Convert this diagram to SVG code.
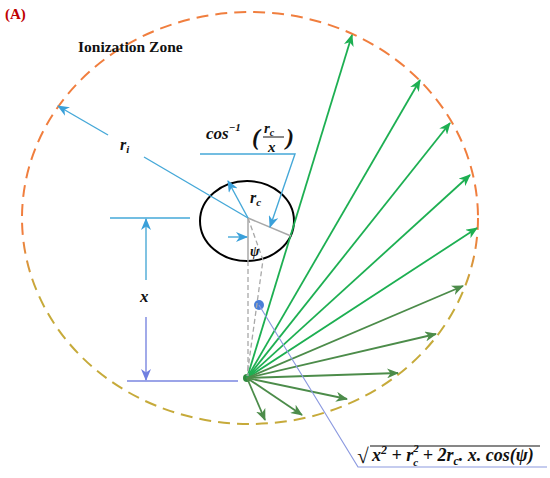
<svg xmlns="http://www.w3.org/2000/svg" width="550" height="478" viewBox="0 0 550 478">
<style>
.serif{font-family:"Liberation Serif","Times New Roman",serif;font-weight:bold;}
.math{font-family:"Liberation Serif","Times New Roman",serif;font-weight:bold;font-style:italic;fill:#111;}
.blue{stroke:#45A8D8;stroke-width:1.4;fill:none;}
.gA{stroke:#1DAF52;stroke-width:1.8;fill:none;marker-end:url(#ahG);}
.gB{stroke:#4C8C4A;stroke-width:1.8;fill:none;marker-end:url(#ahD);}
.gray{stroke:#A8A8A8;stroke-width:1.5;fill:none;}
.grayd{stroke:#A8A8A8;stroke-width:1.3;fill:none;stroke-dasharray:5 3;}
</style>
<defs>
<linearGradient id="zone" gradientUnits="userSpaceOnUse" x1="0" y1="235" x2="0" y2="290">
<stop offset="0" stop-color="#F07E3E"/>
<stop offset="1" stop-color="#C6AA3A"/>
</linearGradient>
<marker id="ahG" markerUnits="userSpaceOnUse" markerWidth="12" markerHeight="10" refX="11" refY="5" orient="auto">
<path d="M0,0 L12,5 L0,10 L3.5,5 z" fill="#1DAF52"/>
</marker>
<marker id="ahD" markerUnits="userSpaceOnUse" markerWidth="12" markerHeight="10" refX="11" refY="5" orient="auto">
<path d="M0,0 L12,5 L0,10 L3.5,5 z" fill="#4C8C4A"/>
</marker>
<marker id="ahB" markerUnits="userSpaceOnUse" markerWidth="12" markerHeight="10" refX="11" refY="5" orient="auto">
<path d="M0,0 L12,5 L0,10 L3.5,5 z" fill="#3AA0DA"/>
</marker>
<marker id="ahP" markerUnits="userSpaceOnUse" markerWidth="12" markerHeight="10" refX="11" refY="5" orient="auto">
<path d="M0,0 L12,5 L0,10 L3.5,5 z" fill="#6F7FE0"/>
</marker>
</defs>
<rect width="550" height="478" fill="#ffffff"/>

<text class="serif" x="5" y="19" font-size="15" fill="#C00000">(A)</text>

<g id="ionization-zone">
<ellipse cx="250" cy="218" rx="228" ry="206" fill="none" stroke="url(#zone)" stroke-width="2" stroke-dasharray="12 7"/>
<text class="serif" x="78" y="52" font-size="15.5" fill="#111">Ionization Zone</text>
</g>

<g id="core">
<ellipse cx="247" cy="221" rx="47" ry="40" fill="none" stroke="#000" stroke-width="2"/>
</g>

<g id="source">
<circle cx="247" cy="378" r="4" fill="#2E8B3E"/>
</g>

<g id="point">
<circle cx="259" cy="305" r="5" fill="#4A7FD8"/>
</g>

<g id="connectors">
<line class="gA" x1="247" y1="378" x2="352" y2="35"/>
<line class="gA" x1="247" y1="378" x2="420" y2="80"/>
<line class="gA" x1="247" y1="378" x2="450" y2="123"/>
<line class="gA" x1="247" y1="378" x2="470" y2="175"/>
<line class="gA" x1="247" y1="378" x2="477" y2="228"/>
<line class="gB" x1="247" y1="378" x2="463" y2="286"/>
<line class="gB" x1="247" y1="378" x2="436" y2="334"/>
<line class="gB" x1="247" y1="378" x2="398" y2="373"/>
<line class="gB" x1="247" y1="378" x2="347" y2="399"/>
<line class="gB" x1="247" y1="378" x2="302" y2="415"/>
<line class="gB" x1="247" y1="378" x2="265" y2="420"/>

<line class="gray" x1="248" y1="218" x2="291" y2="236"/>
<line class="gray" x1="248" y1="218" x2="248" y2="261"/>
<line class="grayd" x1="248" y1="261" x2="248" y2="376"/>
<polyline class="grayd" points="248,218 263,260 247,376"/>

<line class="blue" x1="248" y1="218" x2="144" y2="157"/>
<line class="blue" x1="108" y1="135" x2="58" y2="106" marker-end="url(#ahB)"/>
<line class="blue" x1="248" y1="218" x2="228" y2="181" marker-end="url(#ahB)"/>
<polyline class="blue" points="200,154 295,154 270,227" marker-end="url(#ahB)"/>
<line class="blue" x1="228" y1="237" x2="247" y2="237" marker-end="url(#ahB)"/>

<line class="blue" x1="110" y1="218" x2="190" y2="218"/>
<line stroke="#4AAAD6" stroke-width="1.4" x1="146" y1="280" x2="146" y2="219" marker-end="url(#ahB)"/>
<line stroke="#7A86E0" stroke-width="1.4" x1="146" y1="317" x2="146" y2="380" marker-end="url(#ahP)"/>
<line stroke="#7A86E0" stroke-width="1.4" x1="127" y1="381" x2="238" y2="381"/>

<polyline points="259,305 358,467 547,467" fill="none" stroke="#8C9AE0" stroke-width="1.2"/>
</g>

<g id="labels">
<text class="math" x="120" y="150" font-size="16">r<tspan font-size="11" dy="3">i</tspan></text>
<text class="math" x="250" y="203" font-size="16">r<tspan font-size="11" dy="3">c</tspan></text>
<text class="math" x="250" y="256" font-size="14">ψ</text>
<text class="math" x="140" y="302" font-size="17">x</text>

<text class="math" x="206" y="139" font-size="17">cos<tspan font-size="11" dy="-8">−1</tspan></text>
<text class="math" x="252" y="145" font-size="24" font-style="normal" font-weight="normal">(</text>
<text class="math" x="286" y="145" font-size="24" font-style="normal" font-weight="normal">)</text>
<text class="math" x="264" y="133" font-size="15">r<tspan font-size="10" dy="3">c</tspan></text>
<line x1="263" y1="137" x2="284" y2="137" stroke="#111" stroke-width="1"/>
<text class="math" x="268" y="152" font-size="15">x</text>

<text class="math" x="357" y="463" font-size="21" font-style="normal">√</text>
<line x1="370" y1="446" x2="540" y2="446" stroke="#111" stroke-width="1.2"/>
<text class="math" x="372" y="461" font-size="18">x<tspan font-size="12" dy="-7">2</tspan><tspan dy="7"> + r</tspan><tspan font-size="11" dy="-9">2</tspan><tspan font-size="11" dx="-5.5" dy="14">c</tspan><tspan dy="-5"> + 2r</tspan><tspan font-size="12" dy="4">c</tspan><tspan dy="-4">. x. cos(ψ)</tspan></text>
</g>
</svg>
